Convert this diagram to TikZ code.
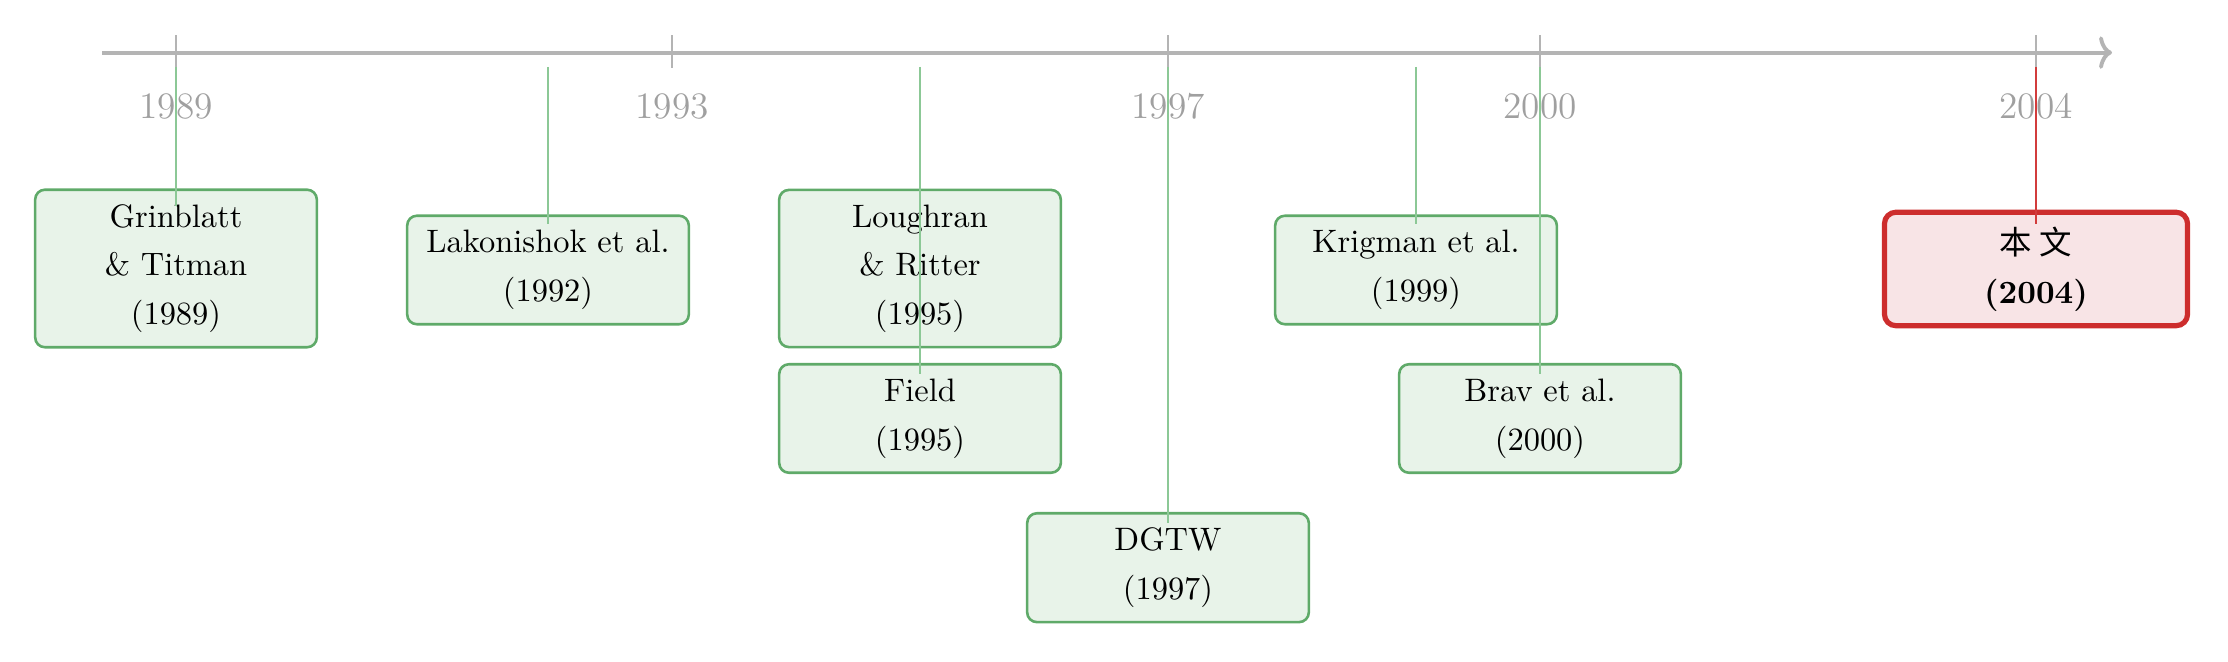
\documentclass[tikz,border=0pt]{standalone}
\usepackage{fontspec}
\newfontfamily\cjk{Noto Sans CJK SC}
\usetikzlibrary{arrows.meta}
\definecolor{axisgray}{RGB}{180,180,180}
\definecolor{labelgray}{RGB}{160,160,160}
\definecolor{gborder}{RGB}{95,170,105}
\definecolor{gfill}{RGB}{232,243,233}
\definecolor{gline}{RGB}{140,200,150}
\definecolor{rborder}{RGB}{205,45,45}
\definecolor{rfill}{RGB}{248,228,230}
\definecolor{rline}{RGB}{210,60,60}
\tikzset{
  axisline/.style={draw=axisgray, line width=1.2pt, -{To[length=4pt,width=10pt]}},
  tickline/.style={draw=axisgray, line width=0.5pt},
  yearlbl/.style={text=labelgray, font=\fontsize{11.5}{14}\selectfont, inner sep=0pt},
  gbox/.style={draw=gborder, fill=gfill, line width=0.8pt, rounded corners=3pt,
    align=center, minimum width=86.8pt, inner sep=4.5pt},
  rbox/.style={draw=rborder, fill=rfill, line width=1.6pt, rounded corners=3.5pt,
    align=center, minimum width=93.4pt, minimum height=33.4pt, inner sep=4.5pt, font=\bfseries},
  gconn/.style={draw=gline, line width=0.55pt},
  rconn/.style={draw=rline, line width=0.55pt}
}
\begin{document}
\begin{tikzpicture}[x=0.3082pt, y=-0.3082pt]
\useasboundingbox (0,0) rectangle (2228,662);
% axis
\coordinate (axL) at (102,52.6);
\coordinate (axR) at (2112,52.6);
\draw[axisline] (axL) -- (axR);
\foreach \yr in {1989,1993,1997,2000,2004} {
  \pgfmathsetmacro\xx{176+(\yr-1989)*124}
  \coordinate (tt\yr) at (\xx,35.5);
  \coordinate (tb\yr) at (\xx,68);
  \draw[tickline] (tt\yr) -- (tb\yr);
  \node[yearlbl] (lbl\yr) at (\xx,106.6) {\yr};
}
% boxes
\node[gbox] (grin) at (176,268.5) {Grinblatt\\[3pt]\& Titman\\[3pt](1989)};
\node[gbox] (lako) at (548,270) {Lakonishok et al.\\[3pt](1992)};
\node[gbox] (loug) at (920,268.5) {Loughran\\[3pt]\& Ritter\\[3pt](1995)};
\node[gbox] (field) at (920,418.5) {Field\\[3pt](1995)};
\node[gbox] (dgtw) at (1168,567.7) {DGTW\\[3pt](1997)};
\node[gbox] (krig) at (1416,270) {Krigman et al.\\[3pt](1999)};
\node[gbox] (brav) at (1540,418.5) {Brav et al.\\[3pt](2000)};
\node[rbox] (bw) at (2036,269) {{\cjk\mdseries 本 文}\\[3pt](2004)};
% connectors
\coordinate (sgrin) at (176,66.8);   \coordinate (egrin) at (176,206);
\coordinate (slako) at (548,66.8);   \coordinate (elako) at (548,224.5);
\coordinate (sfield) at (920,66.8);  \coordinate (efield) at (920,374);
\coordinate (sdgtw) at (1168,66.8);  \coordinate (edgtw) at (1168,523);
\coordinate (skrig) at (1416,66.8);  \coordinate (ekrig) at (1416,224.5);
\coordinate (sbrav) at (1540,66.8);  \coordinate (ebrav) at (1540,374);
\coordinate (sbw) at (2036,66.8);    \coordinate (ebw) at (2036,224.5);
\draw[gconn] (sgrin) -- (egrin);
\draw[gconn] (slako) -- (elako);
\draw[gconn] (sfield) -- (efield);
\draw[gconn] (sdgtw) -- (edgtw);
\draw[gconn] (skrig) -- (ekrig);
\draw[gconn] (sbrav) -- (ebrav);
\draw[rconn] (sbw) -- (ebw);
\end{tikzpicture}
\end{document}
